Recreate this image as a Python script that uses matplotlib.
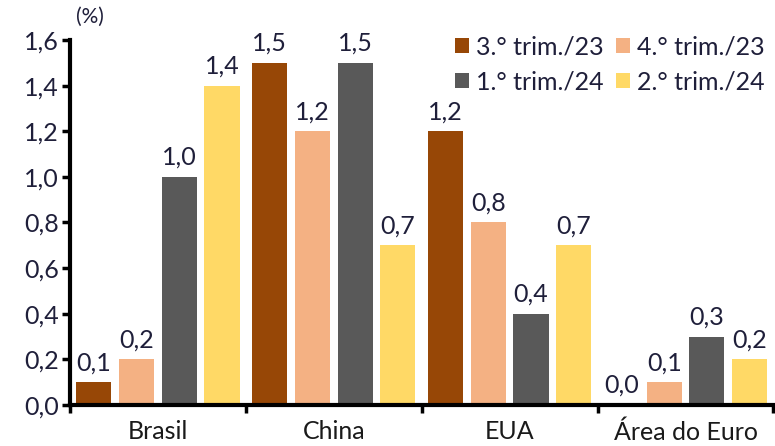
import matplotlib
matplotlib.use("Agg")
import matplotlib.pyplot as plt
import numpy as np

plt.rcParams['font.family'] = ['Lato', 'DejaVu Sans']

categories = ["Brasil", "China", "EUA", "Área do Euro"]
series_names = ["3.° trim./23", "4.° trim./23", "1.° trim./24", "2.° trim./24"]
q3_23 = [0.1, 1.5, 1.2, 0.0]
q4_23 = [0.2, 1.2, 0.8, 0.1]
q1_24 = [1.0, 1.5, 0.4, 0.3]
q2_24 = [1.4, 0.7, 0.7, 0.2]
colors = ["#974706", "#F4B183", "#595959", "#FFD966"]
y_ticks = [0.0, 0.2, 0.4, 0.6, 0.8, 1.0, 1.2, 1.4, 1.6]

series = [q3_23, q4_23, q1_24, q2_24]
label_color = "#1f1f3a"
fs = 18

fig = plt.figure(figsize=(7.75, 4.46), dpi=100)
ax = fig.add_axes([70 / 775, 41 / 446, 1 - 70 / 775 - 0.002, 365 / 446])

x = np.arange(len(categories))
width = 0.2
step = 0.243
handles = []
for i, (vals, name, col) in enumerate(zip(series, series_names, colors)):
    pos = x + (i - 1.5) * step
    bars = ax.bar(pos, vals, width, color=col, label=name)
    handles.append(bars)
    for b, v in zip(bars, vals):
        ax.text(b.get_x() + b.get_width() / 2, v + 0.035,
                f"{v:.1f}".replace(".", ","), ha="center", va="bottom",
                fontsize=fs, color=label_color)

ax.set_xlim(-0.5, len(categories) - 0.5)
ax.set_ylim(0, 1.6)
ax.set_yticks(y_ticks)
ax.set_yticklabels([f"{t:.1f}".replace(".", ",") for t in y_ticks],
                   fontsize=fs, color=label_color)
ax.set_xticks(np.arange(len(categories) + 1) - 0.5)
ax.set_xticklabels([])
ax.set_xticks(x, minor=True)
ax.set_xticklabels(categories, minor=True, fontsize=fs, color="#1a1a1a")
ax.tick_params(axis="x", which="minor", length=0, pad=11)
ax.tick_params(axis="x", which="major", length=6, width=2.5, direction="out")
ax.tick_params(axis="y", length=6, width=2.5, direction="out", pad=2)

for s in ["top", "right"]:
    ax.spines[s].set_visible(False)
for s in ["left", "bottom"]:
    ax.spines[s].set_linewidth(3)

ax.text(0.008, 1.035, "(%)", transform=ax.transAxes, fontsize=15,
        color=label_color, ha="left", va="bottom")

# two rows: 3.°/23, 4.°/23 on top, 1.°/24, 2.°/24 below
order = [0, 2, 1, 3]
ax.legend([handles[k] for k in order], [series_names[k] for k in order],
          loc="upper right", ncol=2, frameon=False, fontsize=fs,
          handlelength=0.55, handleheight=0.55, handletextpad=0.3,
          columnspacing=0.5, labelspacing=0.5, bbox_to_anchor=(1.02, 1.075),
          labelcolor=label_color)

fig.savefig("out.png", dpi=100)
